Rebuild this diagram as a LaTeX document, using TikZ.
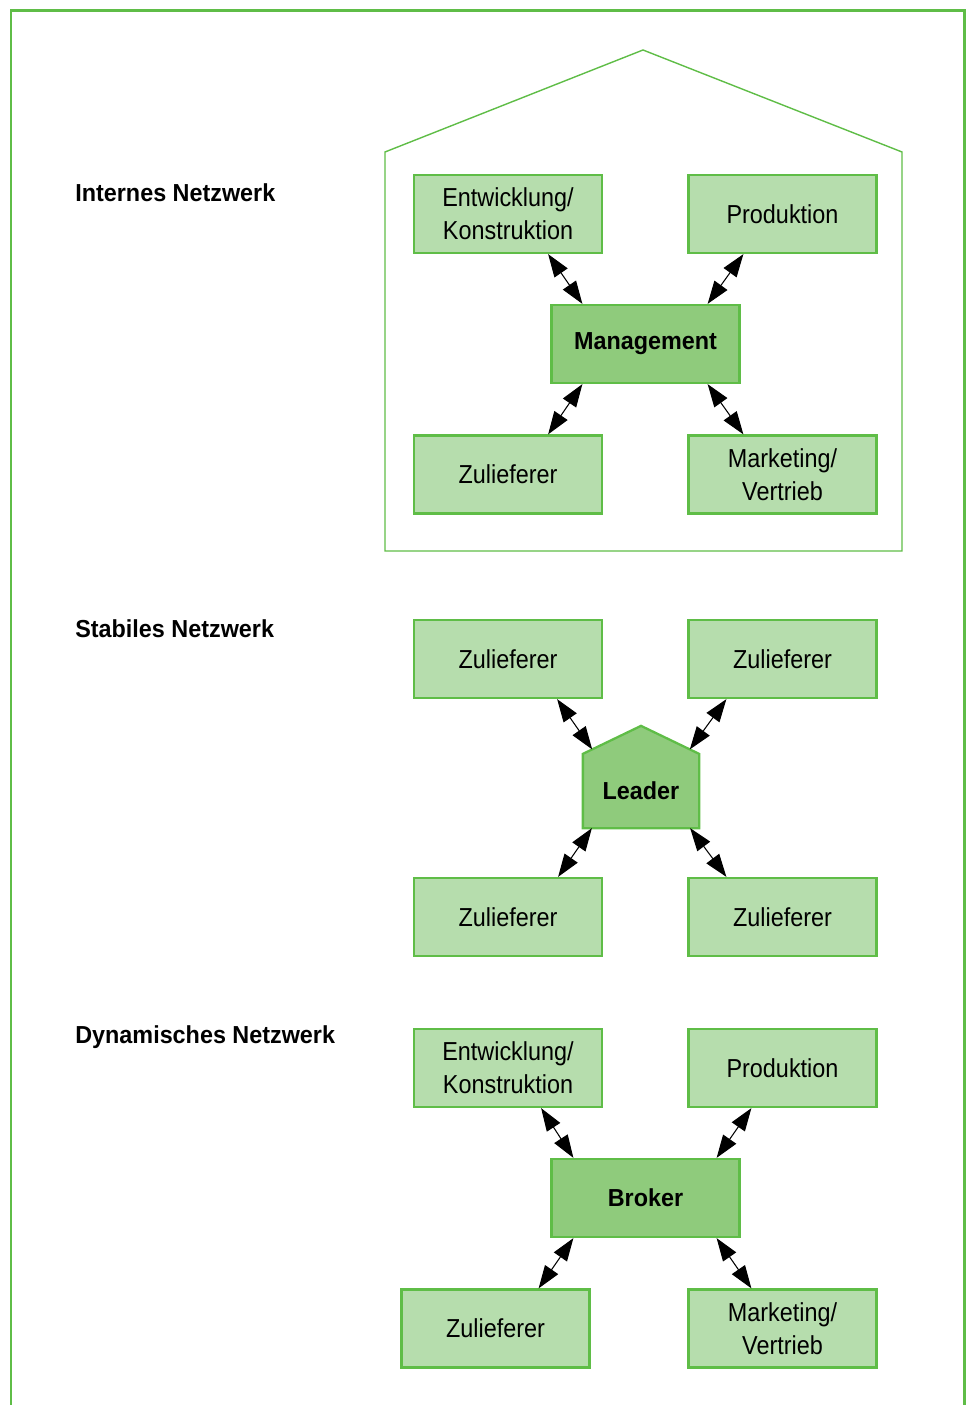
\documentclass[tikz,border=0pt]{standalone}
\usepackage{fontspec}
\setmainfont{Liberation Sans}[FakeStretch=0.9,BoldFeatures={FakeStretch=0.95}]
\usetikzlibrary{arrows.meta,calc,backgrounds}

\definecolor{rahmen}{HTML}{5FBD47}
\definecolor{hell}{HTML}{B6DDAD}
\definecolor{dunkel}{HTML}{8FCB7C}

\tikzset{
  box/.style={draw=rahmen, line width=1.3pt, fill=hell, minimum width=3.76cm,
    minimum height=1.56cm, align=center, inner sep=0pt,
    font=\fontsize{14.8}{18.8}\selectfont},
  kern/.style={box, fill=dunkel, font=\fontsize{14}{16}\selectfont\bfseries},
  titel/.style={anchor=west, inner sep=0pt, font=\fontsize{14}{16}\selectfont\bfseries},
  link/.style={{Triangle[length=13pt,width=9pt]}-{Triangle[length=13pt,width=9pt]}, line width=0.6pt},
}

\begin{document}
\begin{tikzpicture}[x=0.02cm, y=-0.02cm]
  \useasboundingbox (0,0) rectangle (966,1405);
  \draw[rahmen, line width=0.06cm] (11,1405) -- (11,11) -- (964,11) -- (964,1405);

  % internes Netzwerk
  \node[titel] (t1) at (75,193) {Internes Netzwerk};
  \draw[rahmen, line width=0.8pt] (385,551) -- (385,152) -- (643,50) -- (902,152) -- (902,551) -- cycle;
  \node[box] (ent) at (508,214) {Entwicklung/\\Konstruktion};
  \node[box] (prod) at (782.5,214) {Produktion};
  \node[kern] (mgmt) at (645.5,344) {Management};
  \node[box] (zul) at (508,474.5) {Zulieferer};
  \node[box] (mark) at (782.5,474.5) {Marketing/\\Vertrieb};
  \draw[link] ($(ent.south east)+(-55,0)$) -- ($(mgmt.north west)+(32,0)$);
  \draw[link] ($(prod.south west)+(56,0)$) -- ($(mgmt.north east)+(-33,0)$);
  \draw[link] ($(mgmt.south west)+(32,0)$) -- ($(zul.north east)+(-55,0)$);
  \draw[link] ($(mgmt.south east)+(-33,0)$) -- ($(mark.north west)+(56,0)$);

  % stabiles Netzwerk
  \node[titel] (t2) at (75,629) {Stabiles Netzwerk};
  \node[box] (za) at (508,659) {Zulieferer};
  \node[box] (zb) at (782.5,659) {Zulieferer};
  \node[kern, draw=none, fill=none, minimum width=2.28cm, minimum height=1.44cm] (ldr) at (641,791) {Leader};
  \coordinate (giebel) at ($(ldr.north)+(0,-28)$);
  \begin{scope}[on background layer]
    \filldraw[draw=rahmen, line width=1.3pt, fill=dunkel] (ldr.south west) -- (ldr.north west) -- (giebel)
      -- (ldr.north east) -- (ldr.south east) -- cycle;
  \end{scope}
  \node[box] (zc) at (508,917) {Zulieferer};
  \node[box] (zd) at (782.5,917) {Zulieferer};
  \draw[link] ($(za.south east)+(-46,0)$) -- ($(ldr.north west)!0.16!(giebel)$);
  \draw[link] ($(zb.south west)+(39,0)$) -- ($(ldr.north east)!0.16!(giebel)$);
  \draw[link] ($(ldr.south west)+(9,0)$) -- ($(zc.north east)+(-45,0)$);
  \draw[link] ($(ldr.south east)+(-9,0)$) -- ($(zd.north west)+(39,0)$);

  % dynamisches Netzwerk
  \node[titel] (t3) at (75,1037) {Dynamisches Netzwerk};
  \node[box] (ent2) at (508,1068) {Entwicklung/\\Konstruktion};
  \node[box] (prod2) at (782.5,1068) {Produktion};
  \node[kern] (brk) at (645.5,1198) {Broker};
  \node[box] (zul2) at (495.5,1328.5) {Zulieferer};
  \node[box] (mark2) at (782.5,1328.5) {Marketing/\\Vertrieb};
  \draw[link] ($(ent2.south east)+(-62,0)$) -- ($(brk.north west)+(23,0)$);
  \draw[link] ($(prod2.south west)+(64,0)$) -- ($(brk.north east)+(-24,0)$);
  \draw[link] ($(brk.south west)+(23,0)$) -- ($(zul2.north east)+(-52,0)$);
  \draw[link] ($(brk.south east)+(-24,0)$) -- ($(mark2.north west)+(64,0)$);
\end{tikzpicture}
\end{document}
